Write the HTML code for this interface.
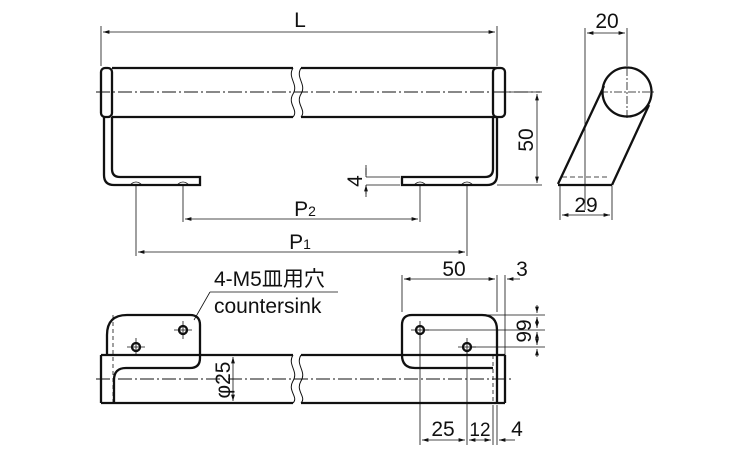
<!DOCTYPE html>
<html><head><meta charset="utf-8"><style>body{margin:0;background:#fff}svg{display:block}text{font-family:"Liberation Sans","Noto Sans CJK JP",sans-serif;fill:#111}</style></head><body>
<svg width="750" height="450" viewBox="0 0 750 450" xmlns="http://www.w3.org/2000/svg">
<defs><marker id="a" viewBox="0 0 10 6" refX="10" refY="3" markerWidth="8" markerHeight="5" orient="auto-start-reverse"><path d="M0,0L10,3L0,6z" fill="#111"/></marker></defs>
<g fill="none" stroke="#111">
<g stroke-width="2.3">
<path d="M112,68H293 M301,68H497 M112,117H293 M301,117H497"/>
<path d="M293,68c-6,10 6,16 0,26c-6,10 6,16 0,23 M301,68c-6,10 6,16 0,26c-6,10 6,16 0,23" stroke-width="1"/>
<rect x="101" y="68" width="11" height="49" rx="4"/>
<rect x="493" y="68" width="12" height="49" rx="4"/>
<path d="M104,117V175q0,10 10,10H200V177H120q-8,0 -8,-8V117"/>
<path d="M497,117V175q0,10 -10,10H402V177H485q8,0 8,-8V117"/>
</g>
<path d="M96,92H540" stroke-width="0.9" stroke-dasharray="14,3,2,3"/>
<g stroke-width="0.8">
<path d="M101,66V26 M497,66V26"/>
<path d="M103,32H495" marker-start="url(#a)" marker-end="url(#a)"/>
<path d="M505,92H542 M497,185H542"/>
<path d="M537,94V183" marker-start="url(#a)" marker-end="url(#a)"/>
<path d="M136,185V256 M183,185V222 M420,185V222 M467,185V256"/>
<path d="M185,219H418" marker-start="url(#a)" marker-end="url(#a)"/>
<path d="M138,252H465" marker-start="url(#a)" marker-end="url(#a)"/>
<path d="M366,177H400 M366,185H400 M366,165V175 M366,187V197" />
<path d="M366,168V177 M366,194V185" marker-end="url(#a)"/>
<path d="M130,185q6,-6 12,0 M177,185q6,-6 12,0 M414,185q6,-6 12,0 M461,185q6,-6 12,0"/>
</g>
<g stroke-width="2.3">
<circle cx="627" cy="92" r="24.5"/>
<path d="M604,86L558,184 M649,105L612,185 M558,185H612"/>
</g>
<g stroke-width="0.8">
<path d="M562,177H610" stroke-dasharray="5,3"/>
<path d="M600,92H655 M627,68V120" stroke-dasharray="8,2,2,2"/>
<path d="M585,28V210 M627,28V66"/>
<path d="M587,33H625" marker-start="url(#a)" marker-end="url(#a)"/>
<path d="M560,186V220 M612,186V220"/>
<path d="M562,215H610" marker-start="url(#a)" marker-end="url(#a)"/>
</g>
<g stroke-width="2.3">
<path d="M101,355H293 M301,355H505 M101,403H293 M301,403H505 M101,355V403 M505,355V403"/>
<path d="M107,355V335q0,-20 20,-20H190q10,0 10,10V358q0,10 -10,10H126q-12,0 -12,12V403"/>
<path d="M402,355V325q0,-10 10,-10H482q15,0 15,15V403"/>
<path d="M402,355q0,13 13,13H493"/>
<circle cx="183" cy="330" r="4"/><circle cx="136" cy="347" r="4"/>
<circle cx="420" cy="330" r="4"/><circle cx="467" cy="347" r="4"/>
</g>
<path d="M293,355c-6,10 6,16 0,26c-6,10 6,16 0,22 M301,355c-6,10 6,16 0,26c-6,10 6,16 0,22" stroke-width="1"/>
<path d="M96,379H512" stroke-width="0.9" stroke-dasharray="14,3,2,3"/>
<g stroke-width="0.8">
<path d="M174,330H192 M183,321V339 M127,347H145 M136,338V356 M411,330H429 M420,321V339 M458,347H476 M467,338V356"/>
<path d="M113,315V403 M200,340V355 M493,355V403" stroke-dasharray="4,3"/>
<path d="M210,292H338 M210,292L194,320"/>
<path d="M402,312V275 M497,312V275 M505,355V275"/>
<path d="M404,279H495" marker-start="url(#a)" marker-end="url(#a)"/>
<path d="M520,279H507" marker-end="url(#a)"/>
<path d="M420,334V445 M467,351V445 M497,405V445 M493,405V445"/>
<path d="M422,440H465" marker-start="url(#a)" marker-end="url(#a)"/>
<path d="M469,440H491" marker-start="url(#a)" marker-end="url(#a)"/>
<path d="M515,440H499" marker-end="url(#a)"/>
<path d="M482,315H545 M424,330H545 M471,347H545"/>
<path d="M537,305V313" marker-end="url(#a)"/>
<path d="M537,317V328" marker-start="url(#a)" marker-end="url(#a)"/>
<path d="M537,332V345" marker-start="url(#a)" marker-end="url(#a)"/>
<path d="M537,357V349" marker-end="url(#a)"/>
<path d="M233,357V401" marker-start="url(#a)" marker-end="url(#a)"/>
</g>
</g>
<g font-size="21">
<text x="300" y="27" text-anchor="middle">L</text>
<text x="305" y="216" text-anchor="middle">P<tspan font-size="14">2</tspan></text>
<text x="300" y="249" text-anchor="middle">P<tspan font-size="14">1</tspan></text>
<text transform="translate(533,140) rotate(-90)" text-anchor="middle">50</text>
<text transform="translate(362,181) rotate(-90)" text-anchor="middle">4</text>
<text x="607" y="28" text-anchor="middle">20</text>
<text x="586" y="212" text-anchor="middle">29</text>
<text x="214" y="286">4-M5皿用穴</text>
<text x="214" y="313">countersink</text>
<text x="454" y="276" text-anchor="middle">50</text>
<text x="522" y="276" text-anchor="middle">3</text>
<text transform="translate(531,331) rotate(-90)" text-anchor="middle">99</text>
<text transform="translate(230,380) rotate(-90)" text-anchor="middle">φ25</text>
<text x="443" y="436" text-anchor="middle">25</text>
<text x="480" y="436" text-anchor="middle" font-size="19">12</text>
<text x="517" y="436" text-anchor="middle">4</text>
</g>
</svg>
</body></html>
